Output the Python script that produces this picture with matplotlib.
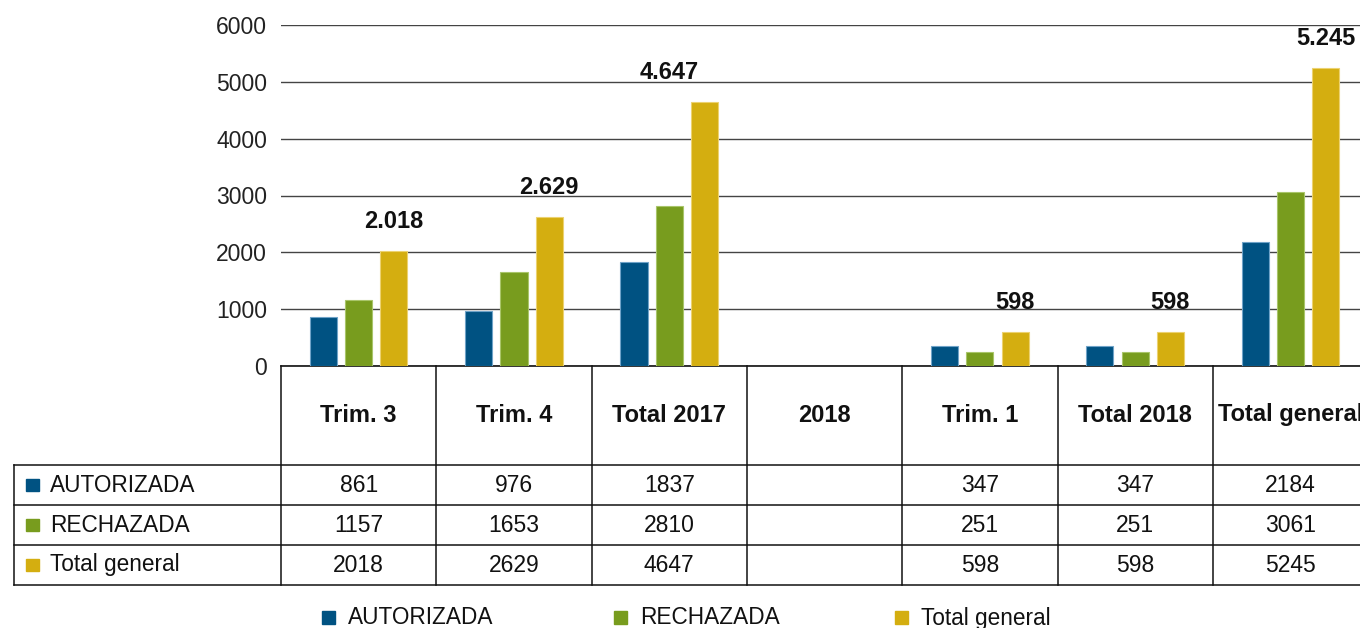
import matplotlib.pyplot as plt
import matplotlib.transforms as mtransforms
from matplotlib.patches import Rectangle
import numpy as np

plt.rcParams['font.family'] = ['Liberation Sans', 'DejaVu Sans']

categories = ["Trim. 3", "Trim. 4", "Total 2017", "2018", "Trim. 1", "Total 2018", "Total general"]
series_names = ["AUTORIZADA", "RECHAZADA", "Total general"]
autorizada = [861, 976, 1837, np.nan, 347, 347, 2184]
rechazada = [1157, 1653, 2810, np.nan, 251, 251, 3061]
total_general = [2018, 2629, 4647, np.nan, 598, 598, 5245]
colors = ["#005282", "#789c1e", "#d4ae10"]
edge_colors = ["#6fa3c8", "#a9c56a", "#ecd270"]

W, H = 1360, 628
CW = 155.3  # category width in px
fig = plt.figure(figsize=(W / 100, H / 100), dpi=100)
# axes pixel box: x 281..(281+7*CW), y 25..366
ax = fig.add_axes([281 / W, (H - 366) / H, 7 * CW / W, 341 / H])

x = np.arange(len(categories))
width = 0.175
offset = 0.227
series = [autorizada, rechazada, total_general]
for i, vals in enumerate(series):
    ax.bar(x + (i - 1) * offset, vals, width, color=colors[i],
           edgecolor=edge_colors[i], linewidth=0.8, zorder=3)

# labels above the "Total general" bars
label_shift = [0, 0, -offset, 0, 0, 0, 0]
for xi, v, s in zip(x, total_general, label_shift):
    if np.isnan(v):
        continue
    txt = f"{int(v):,}".replace(",", ".")
    ax.annotate(txt, (xi + offset + s, v), xytext=(0, 13), textcoords="offset points",
                ha="center", va="bottom", fontsize=17, fontweight="bold", color="#111111",
                annotation_clip=False)

ax.set_xlim(-0.5, len(categories) - 0.5)
ax.set_ylim(0, 6000)
ax.set_yticks(range(0, 6001, 1000))
ax.tick_params(axis="y", length=0, pad=10, labelsize=16.5, labelcolor="#222222")
ax.set_xticks([])
ax.grid(axis="y", color="#444444", linewidth=1, zorder=0)
for sp in ["left", "right", "top"]:
    ax.spines[sp].set_visible(False)
ax.spines["bottom"].set_color("#111111")
ax.spines["bottom"].set_linewidth(1.2)

# data table below the axis
trans = mtransforms.blended_transform_factory(ax.transData, ax.transAxes)


def yf(py):
    return (366 - py) / 341


def xd(px):
    return (px - 281) / CW - 0.5


line_kw = dict(color="#111111", linewidth=1.1, clip_on=False, transform=trans)
right = len(categories) - 0.5 + 0.1
for b in np.arange(len(categories)) - 0.5:
    ax.plot([b, b], [yf(366), yf(585)], **line_kw)
for py in [465, 505, 545, 585]:
    ax.plot([xd(14), right], [yf(py), yf(py)], **line_kw)
ax.plot([xd(14), xd(14)], [yf(465), yf(585)], **line_kw)

for xi, c in zip(x, categories):
    ax.text(xi, yf(415), c, transform=trans, ha="center", va="center",
            fontsize=17, fontweight="bold", color="#111111", clip_on=False)

row_y = [485, 525, 565]
for r, (name, vals) in enumerate(zip(series_names, series)):
    ax.add_patch(Rectangle((xd(26), yf(row_y[r] + 6)), xd(39) - xd(26), yf(row_y[r] - 6) - yf(row_y[r] + 6),
                           transform=trans, color=colors[r], clip_on=False))
    ax.text(xd(50), yf(row_y[r]), name, transform=trans, ha="left", va="center",
            fontsize=16.3, color="#111111", clip_on=False)
    for xi, v in zip(x, vals):
        if np.isnan(v):
            continue
        ax.text(xi, yf(row_y[r]), f"{int(v)}", transform=trans, ha="center", va="center",
                fontsize=16.5, color="#111111", clip_on=False)

# legend at the bottom
leg_x = [322, 614, 895]
for name, c, lx in zip(series_names, colors, leg_x):
    fig.patches.append(Rectangle((lx / W, (H - 624) / H), 13 / W, 13 / H,
                                 transform=fig.transFigure, color=c))
    fig.text((lx + 26) / W, (H - 618) / H, name, ha="left", va="center",
             fontsize=16.3, color="#111111")

fig.savefig("out.png", dpi=100)
